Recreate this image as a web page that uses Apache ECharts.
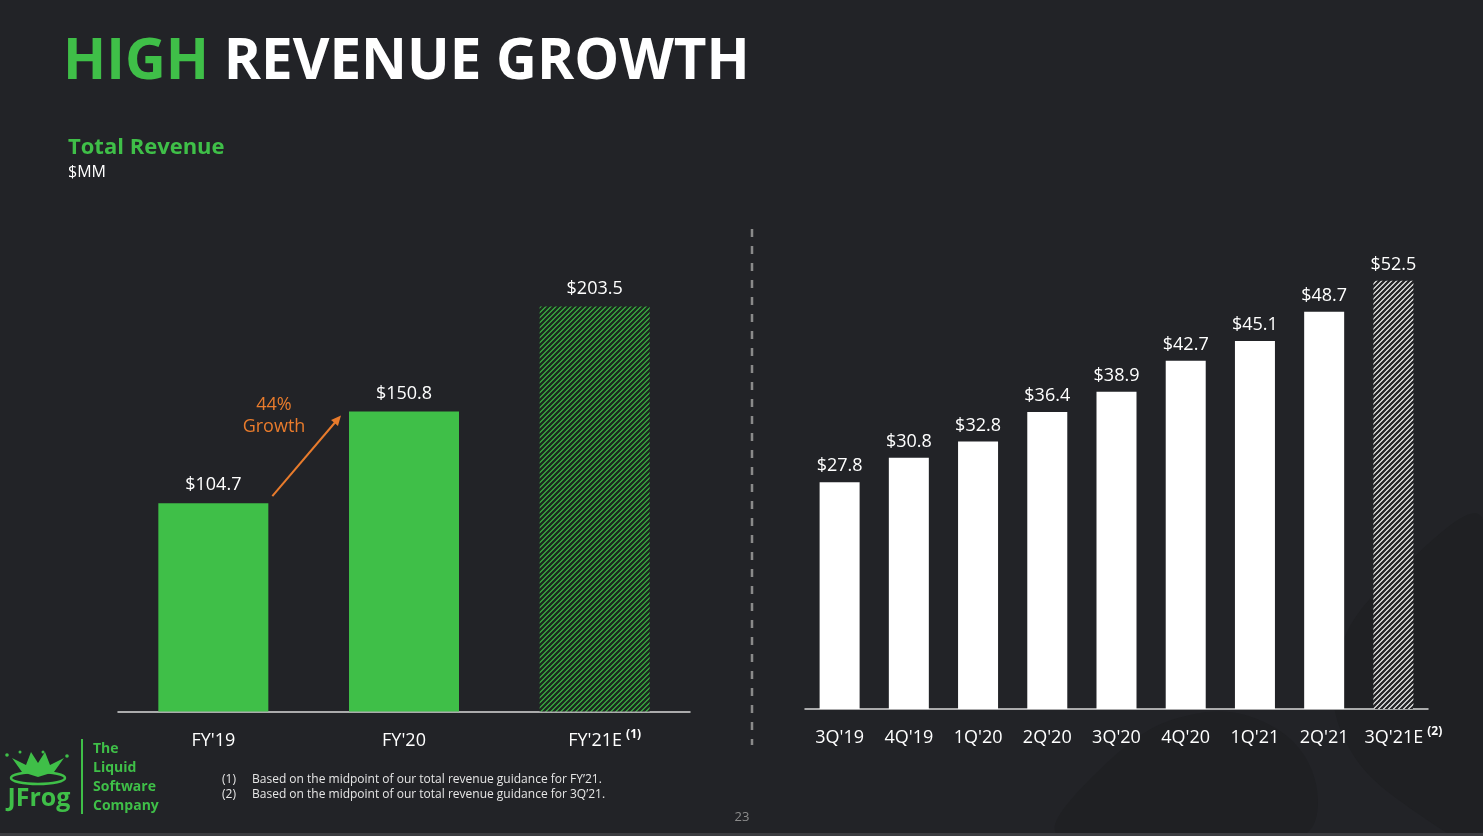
<!DOCTYPE html>
<html><head><meta charset="utf-8">
<script src="https://cdn.jsdelivr.net/npm/echarts@6/dist/echarts.min.js"></script>
<style>html,body{margin:0;padding:0;background:#222327;}#c{width:1483px;height:836px;}</style>
</head><body><div id="c"></div>
<script>
// ---- data ----
const annualCats = ["FY'19", "FY'20", "FY'21E"];
const annualNotes = ["", "", "(1)"];
const annualValues = [104.7, 150.8, 203.5];
const annualEstimate = [false, false, true];

const quarterCats = ["3Q'19", "4Q'19", "1Q'20", "2Q'20", "3Q'20", "4Q'20", "1Q'21", "2Q'21", "3Q'21E"];
const quarterNotes = ["", "", "", "", "", "", "", "", "(2)"];
const quarterValues = [27.8, 30.8, 32.8, 36.4, 38.9, 42.7, 45.1, 48.7, 52.5];
const quarterEstimate = [false, false, false, false, false, false, false, false, true];

const growthText = ["44%", "Growth"];
const footnotes = [["(1)", "Based on the midpoint of our total revenue guidance for FY\u201921."],
                   ["(2)", "Based on the midpoint of our total revenue guidance for 3Q\u201921."]];

// ---- styles ----
const BG = '#222327', GREEN = '#3fbf48', ORANGE = '#e87b2c', FONT = '"Open Sans", "Noto Sans", sans-serif';

function hatch(fg, bg) {
  const s = 5, c = document.createElement('canvas');
  c.width = s; c.height = s;
  const g = c.getContext('2d');
  g.fillStyle = bg; g.fillRect(0, 0, s, s);
  g.strokeStyle = fg; g.lineWidth = 2.4;
  g.beginPath();
  g.moveTo(-1, s + 1); g.lineTo(s + 1, -1);
  g.moveTo(-1, 1); g.lineTo(1, -1);
  g.moveTo(s - 1, s + 1); g.lineTo(s + 1, s - 1);
  g.stroke();
  return c;
}
const greenHatch = { image: hatch('#1c2a1f', GREEN), repeat: 'repeat' };
const whiteHatch = { image: hatch('#262628', '#ffffff'), repeat: 'repeat' };

function catLabel(cats, notes) {
  return function (v) {
    const n = notes[cats.indexOf(v)];
    return n ? '{pad|}{m|' + v + '}{s|' + n + '}' : v;
  };
}
const richSup = {
  m: { fontSize: 18, color: '#ffffff', fontFamily: FONT, lineHeight: 24, verticalAlign: 'middle' },
  s: { fontSize: 12, fontWeight: 'bold', color: '#ffffff', fontFamily: FONT, lineHeight: 12, verticalAlign: 'top', padding: [0, 0, 0, 4] },
  pad: { width: 20, lineHeight: 12 }
};

const chart = echarts.init(document.getElementById('c'), null, { renderer: 'canvas' });
const option = {
  backgroundColor: BG,
  animation: false,
  grid: [
    { left: 118, width: 572, top: 214, bottom: 124.5 },
    { left: 805, width: 623, top: 219.5, bottom: 127 }
  ],
  xAxis: [
    { type: 'category', gridIndex: 0, data: annualCats,
      axisLine: { lineStyle: { color: '#d9d9d9', width: 1.5 } }, axisTick: { show: false },
      axisLabel: { color: '#ffffff', fontSize: 18, lineHeight: 24, fontFamily: FONT, margin: 17, interval: 0, hideOverlap: false, formatter: catLabel(annualCats, annualNotes), rich: richSup } },
    { type: 'category', gridIndex: 1, data: quarterCats,
      axisLine: { lineStyle: { color: '#d9d9d9', width: 1.5 } }, axisTick: { show: false },
      axisLabel: { color: '#ffffff', fontSize: 18, lineHeight: 24, fontFamily: FONT, margin: 17, interval: 0, hideOverlap: false, formatter: catLabel(quarterCats, quarterNotes), rich: richSup } }
  ],
  yAxis: [
    { type: 'value', gridIndex: 0, min: 0, max: 250, show: false },
    { type: 'value', gridIndex: 1, min: 0, max: 60, show: false }
  ],
  series: [
    { type: 'bar', xAxisIndex: 0, yAxisIndex: 0, barWidth: 110,
      data: annualValues.map((v, i) => ({ value: v, itemStyle: { color: annualEstimate[i] ? greenHatch : GREEN } })),
      label: { show: true, position: 'top', distance: 9, color: '#ffffff', fontSize: 18, fontFamily: FONT, formatter: p => '$' + p.value.toFixed(1) } },
    { type: 'bar', xAxisIndex: 1, yAxisIndex: 1, barWidth: 40,
      data: quarterValues.map((v, i) => ({ value: v, itemStyle: { color: quarterEstimate[i] ? whiteHatch : '#ffffff' } })),
      label: { show: true, position: 'top', distance: 7, color: '#ffffff', fontSize: 18, fontFamily: FONT, formatter: p => '$' + p.value.toFixed(1) } }
  ]
};
chart.setOption(option);

// annotations placed relative to the bars
const p0 = chart.convertToPixel({ xAxisIndex: 0, yAxisIndex: 0 }, [0, annualValues[0]]);
const p1 = chart.convertToPixel({ xAxisIndex: 0, yAxisIndex: 0 }, [1, annualValues[1]]);
const ax0 = p0[0] + 59, ay0 = p0[1] - 7, ax1 = p1[0] - 63, ay1 = p1[1] + 4;
const ang = Math.atan2(ay1 - ay0, ax1 - ax0);
const ah = 10;
const headPts = [[ax1, ay1],
  [ax1 - ah * Math.cos(ang) + 4.5 * Math.sin(ang), ay1 - ah * Math.sin(ang) - 4.5 * Math.cos(ang)],
  [ax1 - ah * Math.cos(ang) - 4.5 * Math.sin(ang), ay1 - ah * Math.sin(ang) + 4.5 * Math.cos(ang)]];

const gfx = [
  // faint background swirls
  { type: 'polygon', silent: true, z: -10, shape: { smooth: 0.4, points: [[1483, 520], [1400, 570], [1340, 650], [1345, 740], [1420, 815], [1483, 836]] }, style: { fill: '#1f2023' } },
  { type: 'polygon', silent: true, z: -10, shape: { smooth: 0.4, points: [[1060, 836], [1110, 760], [1190, 715], [1270, 725], [1315, 780], [1300, 836]] }, style: { fill: '#1f2023' } },
  { type: 'rect', shape: { x: 0, y: 833, width: 1483, height: 3 }, style: { fill: '#3b3c40' }, silent: true },
  { type: 'text', left: 63, top: 34, style: { text: '{g|HIGH }{w|REVENUE GROWTH}', rich: {
      g: { fill: GREEN, fontSize: 56.5, fontWeight: 'bold', fontFamily: FONT },
      w: { fill: '#ffffff', fontSize: 56.5, fontWeight: 'bold', fontFamily: FONT } } } },
  { type: 'text', left: 68, top: 137, style: { text: 'Total Revenue', fill: GREEN, fontSize: 22, fontWeight: 'bold', fontFamily: FONT } },
  { type: 'text', left: 68, top: 164, style: { text: '$MM', fill: '#ffffff', fontSize: 16, fontFamily: FONT } },
  { type: 'line', shape: { x1: 752, y1: 229, x2: 752, y2: 745 }, style: { stroke: '#8a8a8a', lineWidth: 2.5, lineDash: [8, 9] } },
  { type: 'line', shape: { x1: ax0, y1: ay0, x2: ax1 - 6 * Math.cos(ang), y2: ay1 - 6 * Math.sin(ang) }, style: { stroke: ORANGE, lineWidth: 2 } },
  { type: 'polygon', shape: { points: headPts }, style: { fill: ORANGE } },
  { type: 'text', x: 274, y: 405, style: { text: growthText[0], fill: ORANGE, fontSize: 18, fontFamily: FONT, align: 'center', verticalAlign: 'middle' } },
  { type: 'text', x: 274, y: 427, style: { text: growthText[1], fill: ORANGE, fontSize: 18, fontFamily: FONT, align: 'center', verticalAlign: 'middle' } },
  // logo
  { type: 'line', shape: { x1: 82, y1: 739, x2: 82, y2: 814 }, style: { stroke: GREEN, lineWidth: 2 } },
  { type: 'text', x: 93, y: 749, style: { text: 'The', fill: GREEN, fontSize: 14, fontWeight: 'bold', fontFamily: FONT, verticalAlign: 'middle' } },
  { type: 'text', x: 93, y: 768, style: { text: 'Liquid', fill: GREEN, fontSize: 14, fontWeight: 'bold', fontFamily: FONT, verticalAlign: 'middle' } },
  { type: 'text', x: 93, y: 787, style: { text: 'Software', fill: GREEN, fontSize: 14, fontWeight: 'bold', fontFamily: FONT, verticalAlign: 'middle' } },
  { type: 'text', x: 93, y: 806, style: { text: 'Company', fill: GREEN, fontSize: 14, fontWeight: 'bold', fontFamily: FONT, verticalAlign: 'middle' } },
  { type: 'text', x: 39, y: 799, style: { text: 'JFrog', fill: GREEN, fontSize: 25, fontWeight: 'bold', fontFamily: '"Liberation Sans Narrow", "Open Sans", sans-serif', align: 'center', verticalAlign: 'middle' } },
  { type: 'ellipse', shape: { cx: 38, cy: 778, rx: 27, ry: 6 }, style: { fill: 'none', stroke: GREEN, lineWidth: 2.5 } },
  { type: 'polygon', shape: { points: [[22, 772], [12, 758], [26, 765], [31, 752], [38, 763], [45, 752], [50, 765], [64, 758], [54, 772], [38, 777]] }, style: { fill: GREEN } },
  { type: 'circle', shape: { cx: 7, cy: 755, r: 1.8 }, style: { fill: GREEN } },
  { type: 'circle', shape: { cx: 67, cy: 756, r: 1.8 }, style: { fill: GREEN } },
  { type: 'circle', shape: { cx: 20, cy: 752, r: 1.5 }, style: { fill: GREEN } },
  { type: 'circle', shape: { cx: 43, cy: 752, r: 1.5 }, style: { fill: GREEN } },
  // footnotes
  { type: 'text', x: 222, y: 780, style: { text: footnotes[0][0], fill: '#e6e6e6', fontSize: 12, fontFamily: FONT, verticalAlign: 'middle' } },
  { type: 'text', x: 252, y: 780, style: { text: footnotes[0][1], fill: '#e6e6e6', fontSize: 12, fontFamily: FONT, verticalAlign: 'middle' } },
  { type: 'text', x: 222, y: 795, style: { text: footnotes[1][0], fill: '#e6e6e6', fontSize: 12, fontFamily: FONT, verticalAlign: 'middle' } },
  { type: 'text', x: 252, y: 795, style: { text: footnotes[1][1], fill: '#e6e6e6', fontSize: 12, fontFamily: FONT, verticalAlign: 'middle' } },
  { type: 'text', x: 742, y: 817, style: { text: '23', fill: '#8c8c8c', fontSize: 13, fontFamily: FONT, align: 'center', verticalAlign: 'middle' } }
];
chart.setOption({ graphic: { elements: gfx } });
</script></body></html>
